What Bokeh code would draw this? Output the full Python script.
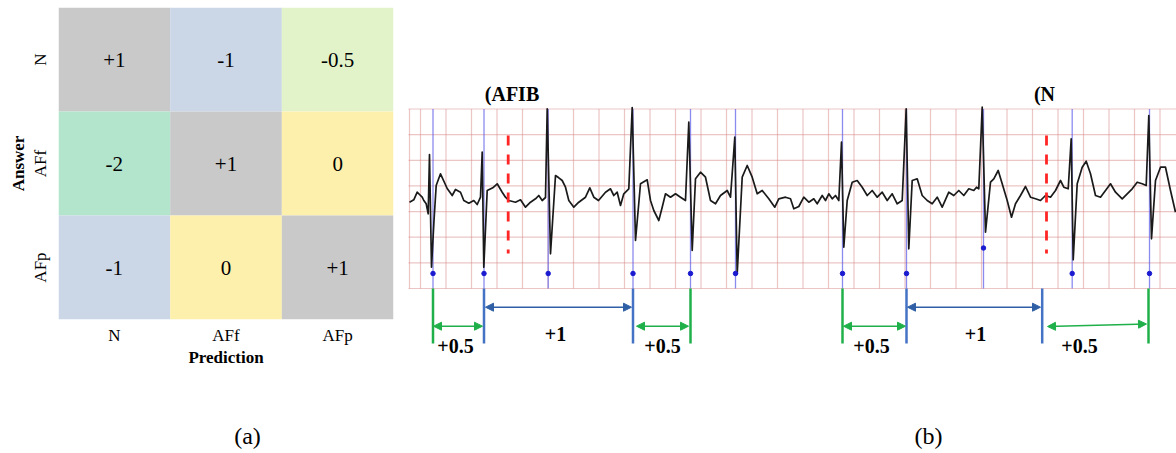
from bokeh.plotting import figure
from bokeh.models import ColumnDataSource, Range1d, Arrow, NormalHead, FactorRange
from bokeh.layouts import row, column
from bokeh.transform import factor_cmap
from bokeh.core.properties import value
from bokeh.embed import file_html
from bokeh.resources import INLINE

SERIF = "Liberation Serif"

# ---------------- (a) scoring matrix ----------------
prediction = ["N", "AFf", "AFp"]
answer = ["N", "AFf", "AFp"]
score_labels = [["+1", "-1", "-0.5"],
                ["-2", "+1", "0"],
                ["-1", "0", "+1"]]
score_factors = ["+1", "-1", "-0.5", "-2", "0"]
score_palette = ["#c9c9c9", "#cbd6e7", "#e2f3ca", "#b3e4cc", "#fdf0ad"]

# ---------------- (b) ECG strip ----------------
ecg_x = [409, 413.3, 416.7, 419, 421.7, 423.3, 425.7, 427.7, 429, 431, 433.5, 435.7, 440, 446.7, 451.7, 455, 460,
         463.3, 468.3, 473.3, 476.7, 480, 481.7, 483.3, 486.7, 492.3, 496.7, 501.7, 505, 508.3, 515, 520, 525, 530,
         535, 538.3, 541.7, 545, 546.7, 550, 555, 558.3, 561.7, 565, 568.3, 573.3, 578.3, 585, 589.3, 593.3, 598,
         605, 610, 613.3, 616.7, 620, 623.3, 628.3, 631.7, 635, 640, 646.7, 650, 653.3, 658.3, 661.7, 665, 670,
         675, 680, 685, 688.3, 691.7, 695, 700, 705, 710, 715, 720, 726.7, 730, 734.3, 736.7, 741.7, 746.7, 751.7,
         756.7, 761.7, 768.3, 774.3, 778.3, 785, 790, 793.3, 798.3, 803.3, 808.3, 813.3, 816.7, 821.7, 825, 828.3,
         831.7, 835, 838.3, 841, 843.3, 846.7, 851.7, 856.7, 861.7, 866.7, 871.7, 876.7, 881.7, 886.7, 891.7,
         896.7, 901.7, 905.7, 908.3, 911.7, 916.7, 921.7, 926.7, 931.7, 936.7, 941.7, 948.3, 953.3, 958.3, 963.3,
         968.3, 973.3, 976, 978.3, 981.7, 985, 990, 993.3, 997.7, 1001.7, 1006.7, 1011, 1015, 1020, 1025, 1030,
         1035, 1040, 1045, 1050, 1055, 1060, 1063.3, 1067.7, 1070.7, 1072.7, 1076.7, 1081.7, 1085.7, 1090, 1095,
         1100, 1105, 1110, 1115, 1121.7, 1126.7, 1131.7, 1136.7, 1141.7, 1145.7, 1148.3, 1151, 1155, 1160, 1165,
         1170, 1175]
ecg_y = [201.7, 199.3, 191.7, 194, 196.7, 200, 203.3, 213.3, 154, 266.7, 220, 185, 173.3, 188, 195, 189, 191.7,
         200, 202.7, 200, 204, 196.7, 151.7, 266.7, 190, 187.3, 183.3, 191.7, 196.7, 200, 201.7, 199.3, 206.7, 201.7,
         198.3, 195, 200, 197, 108.3, 253.3, 175, 177.3, 180, 186.7, 200, 206.7, 201.7, 196.7, 187.3, 196.7, 200,
         191.7, 188.3, 195, 191.7, 205, 193.3, 188.3, 107, 240, 183.3, 179.3, 200, 210, 220, 206.7, 193.3, 196.7,
         193.3, 196.7, 200, 121.7, 250, 178.3, 171.7, 176.7, 200, 203.3, 195, 190, 196.7, 136.7, 273.3, 176.7, 165,
         176.7, 193.3, 190, 198.3, 206.7, 198.3, 196.7, 198.3, 208.3, 206, 196.7, 201.7, 198.3, 203.3, 195, 200,
         193.3, 198.3, 195, 200, 141.7, 246.7, 200, 181.7, 180, 186.7, 195, 190, 196.7, 191.7, 200, 193.3, 203.3,
         200, 108.3, 248.3, 180, 178.3, 195, 200, 203.3, 196.7, 206.7, 191.7, 195, 190, 195, 188.3, 190, 186.7,
         188.3, 106.7, 231.7, 181.7, 178.3, 170, 183.3, 200, 216.7, 203.3, 195, 186, 196.7, 198.3, 200, 195, 196.7,
         190, 180, 186.7, 188.3, 138.3, 259.3, 183.3, 166.7, 160.7, 173.3, 195, 196.7, 190, 183.3, 191.7, 198.3,
         193.3, 188.3, 181.7, 183.3, 185, 115, 238.3, 180, 166.7, 166.7, 190, 211.7]

beat_x = [432.5, 483.5, 547.7, 632.5, 690, 735, 842, 906, 983, 1071.7, 1149]
beat_dot_y = [273, 273, 273, 273, 273, 273, 273, 273, 247.5, 273, 273]

rhythm_change_x = [507.7, 1046]
rhythm_labels = ["(AFIB", "(N"]
rhythm_label_x = [511.5, 1044]

green_bound_x = [432.5, 690, 842, 1148]
blue_bound_x = [483.5, 632.5, 906, 1041.7]

green_arrow_x0 = [433, 636, 843, 1047]
green_arrow_x1 = [482, 688, 905, 1146]
green_arrow_y0 = [325.7, 325.7, 325.7, 326]
green_arrow_y1 = [325.7, 325.7, 325.7, 323.5]
blue_arrow_x0 = [485, 907]
blue_arrow_x1 = [631, 1040]
blue_arrow_y = [306.7, 306.7]

score_text = ["+0.5", "+1", "+0.5", "+0.5", "+1", "+0.5"]
score_text_x = [455, 555, 662, 871, 975, 1079]
score_text_y = [345, 333, 345, 345, 333, 345]

captions = ["(a)", "(b)"]
caption_x = [247, 928]

TOP_H = 383

# ================= figure (a) =================
rows_a, cols_a, labs_a = [], [], []
for i, a in enumerate(answer):
    for j, pr in enumerate(prediction):
        rows_a.append(a)
        cols_a.append(pr)
        labs_a.append(score_labels[i][j])
src_a = ColumnDataSource(dict(pred=cols_a, ans=rows_a, label=labs_a))

p1 = figure(width=405, height=TOP_H, x_range=FactorRange(*prediction),
            y_range=FactorRange(*reversed(answer)),
            output_backend="svg", toolbar_location=None, frame_align=False,
            min_border_left=58, min_border_right=12, min_border_top=7, min_border_bottom=TOP_H - 319)
p1.rect(x="pred", y="ans", width=1, height=1, source=src_a,
        fill_color=factor_cmap("label", score_palette, score_factors), line_color=None)
p1.text(x="pred", y="ans", text="label", source=src_a, text_align="center", text_baseline="middle",
        text_font=value(SERIF), text_font_size="21px", text_color="#000000")
p1.grid.visible = False
p1.outline_line_color = None
for ax in (p1.xaxis[0], p1.yaxis[0]):
    ax.axis_line_color = None
    ax.major_tick_line_color = None
    ax.minor_tick_line_color = None
    ax.major_label_text_font = SERIF
    ax.major_label_text_font_size = "17px"
    ax.major_label_text_color = "#000000"
    ax.axis_label_text_font = SERIF
    ax.axis_label_text_font_style = "bold"
    ax.axis_label_text_font_size = "17px"
    ax.axis_label_text_color = "#000000"
p1.xaxis.axis_label = "Prediction"
p1.xaxis.major_label_standoff = 0
p1.xaxis.axis_label_standoff = 0
p1.yaxis.axis_label = "Answer"
p1.yaxis.major_label_orientation = "vertical"
p1.yaxis.major_label_standoff = 3
p1.yaxis.axis_label_standoff = 0

# ================= figure (b) =================
p2 = figure(width=771, height=TOP_H, x_range=Range1d(405, 1176), y_range=Range1d(TOP_H, 0),
            output_backend="svg", toolbar_location=None, min_border=0, frame_align=False,
            x_axis_location=None, y_axis_location=None)
p2.grid.visible = False
p2.outline_line_color = None

# ECG paper grid (decoration)
grid_top, grid_bottom = 108.5, 288
vx = [409] + [420 + 25.5 * k for k in range(30)]
hy = [grid_top + 25.64 * k for k in range(8)]
p2.segment(x0=vx, y0=[grid_top] * len(vx), x1=vx, y1=[grid_bottom] * len(vx),
           line_color="#d98c8c", line_alpha=0.5, line_width=1.2)
p2.segment(x0=[408] * len(hy), y0=hy, x1=[1176] * len(hy), y1=hy,
           line_color="#d98c8c", line_alpha=0.5, line_width=1.2)

# beat markers
p2.segment(x0=beat_x, y0=[grid_top] * len(beat_x), x1=beat_x, y1=[grid_bottom] * len(beat_x),
           line_color="#5a5ae8", line_alpha=0.7, line_width=1.3)

# ECG trace
p2.line(ecg_x, ecg_y, line_color="#1a1a1a", line_width=1.7, line_join="round")

p2.scatter(beat_x, beat_dot_y, size=4.5, color="#1a1ad0")

# rhythm change (red dashed)
p2.segment(x0=rhythm_change_x, y0=[135] * 2, x1=rhythm_change_x, y1=[253] * 2,
           line_color="#ff2525", line_width=2.8, line_dash="10 9")
p2.text(x=rhythm_label_x, y=[93] * 2, text=rhythm_labels, text_align="center", text_baseline="middle",
        text_font=value(SERIF), text_font_style="bold", text_font_size="20px", text_color="#000000")

# interval boundaries
p2.segment(x0=green_bound_x, y0=[288] * 4, x1=green_bound_x, y1=[343] * 4,
           line_color="#1fb04a", line_width=2.5)
p2.segment(x0=blue_bound_x, y0=[288] * 4, x1=blue_bound_x, y1=[343] * 4,
           line_color="#4472c4", line_width=2.5)

g_src = ColumnDataSource(dict(x0=green_arrow_x0, y0=green_arrow_y0, x1=green_arrow_x1, y1=green_arrow_y1))
p2.add_layout(Arrow(x_start="x0", y_start="y0", x_end="x1", y_end="y1", source=g_src,
                    line_color="#1fb04a", line_width=1.6,
                    start=NormalHead(size=8, fill_color="#1fb04a", line_color="#1fb04a"),
                    end=NormalHead(size=8, fill_color="#1fb04a", line_color="#1fb04a")))
b_src = ColumnDataSource(dict(x0=blue_arrow_x0, y0=blue_arrow_y, x1=blue_arrow_x1, y1=blue_arrow_y))
p2.add_layout(Arrow(x_start="x0", y_start="y0", x_end="x1", y_end="y1", source=b_src,
                    line_color="#2f5fa5", line_width=1.6,
                    start=NormalHead(size=8, fill_color="#2f5fa5", line_color="#2f5fa5"),
                    end=NormalHead(size=8, fill_color="#2f5fa5", line_color="#2f5fa5")))

p2.text(x=score_text_x, y=score_text_y, text=score_text, text_align="center", text_baseline="middle",
        text_font=value(SERIF), text_font_style="bold", text_font_size="20px", text_color="#000000")

# ================= caption strip =================
p3 = figure(width=1176, height=453 - TOP_H, x_range=Range1d(0, 1176), y_range=Range1d(453, TOP_H),
            output_backend="svg", toolbar_location=None, min_border=0, frame_align=False,
            x_axis_location=None, y_axis_location=None)
p3.grid.visible = False
p3.outline_line_color = None
p3.text(x=caption_x, y=[435, 435], text=captions, text_align="center", text_baseline="middle",
        text_font=value(SERIF), text_font_size="24px", text_color="#000000")

layout = column(row(p1, p2), p3)
open("out.html", "w").write(file_html(layout, INLINE))
